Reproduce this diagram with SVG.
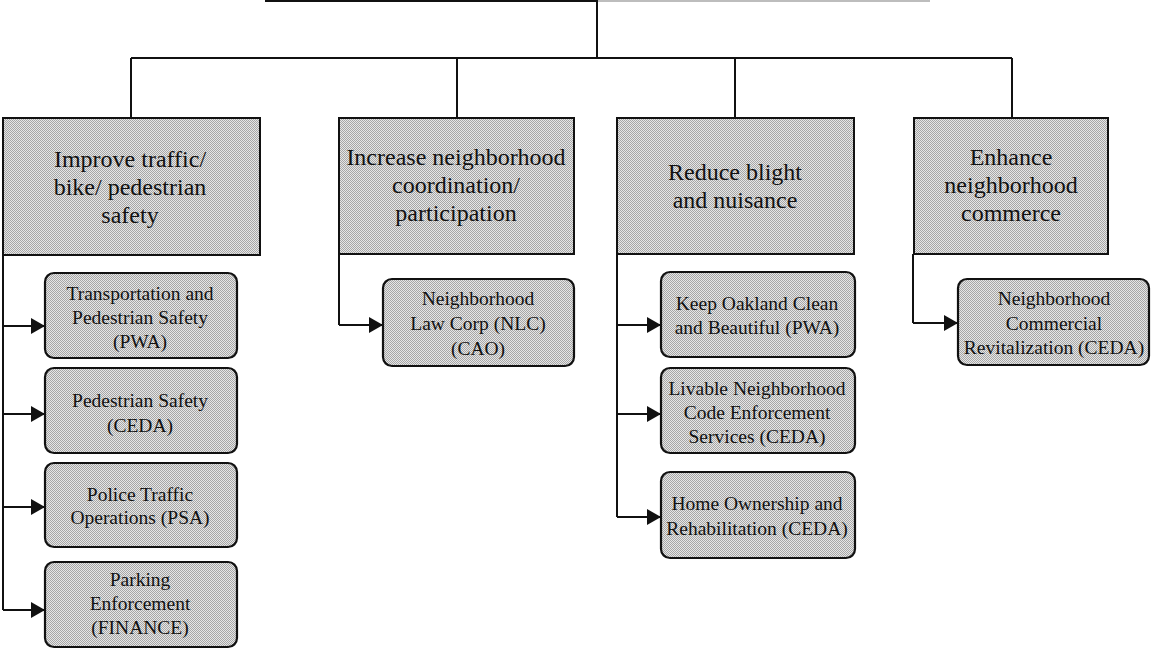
<svg xmlns="http://www.w3.org/2000/svg" width="1151" height="656" viewBox="0 0 1151 656">
  <defs>
    <pattern id="dither" patternUnits="userSpaceOnUse" width="2" height="2">
      <rect x="0" y="0" width="2" height="2" fill="#e6e6e6"/>
      <rect x="0" y="0" width="1" height="1" fill="#a6a6a6"/>
      <rect x="1" y="1" width="1" height="1" fill="#a6a6a6"/>
    </pattern>
    <marker id="arrow" markerUnits="userSpaceOnUse" markerWidth="15" markerHeight="16" refX="14" refY="8" orient="auto">
      <path d="M0,0 L14,8 L0,16 Z" fill="#111"/>
    </marker>
  </defs>
  <style>
    .goal rect { fill: url(#dither); stroke: #111; stroke-width: 2; }
    .prog rect { fill: url(#dither); stroke: #111; stroke-width: 2.2; }
    .goal text { font-family: "Liberation Serif", "Times New Roman", serif; font-size: 24px; fill: #111; text-anchor: middle; }
    .prog text { font-family: "Liberation Serif", "Times New Roman", serif; font-size: 19.5px; fill: #111; text-anchor: middle; }
    .conn path { fill: none; stroke: #111; stroke-width: 2; }
    .conn .arr { marker-end: url(#arrow); }
  </style>

  <rect x="0" y="0" width="1151" height="656" fill="#ffffff"/>

  <g id="connectors" class="conn">
    <path d="M265,1 H597" />
    <path d="M597,1 H930" style="stroke:#bdbdbd"/>
    <path d="M597,0 V58" />
    <path d="M131,58 H1012" />
    <path d="M131,58 V118" />
    <path d="M457,58 V118" />
    <path d="M735,58 V118" />
    <path d="M1012,58 V118" />
    <!-- goal 1 -->
    <path d="M3,255 V610" />
    <path class="arr" d="M3,326 H45" />
    <path class="arr" d="M3,414 H45" />
    <path class="arr" d="M3,507 H45" />
    <path class="arr" d="M3,610 H45" />
    <!-- goal 2 -->
    <path d="M339,254 V325" />
    <path class="arr" d="M339,325 H383" />
    <!-- goal 3 -->
    <path d="M617,254 V517" />
    <path class="arr" d="M617,325 H661" />
    <path class="arr" d="M617,414 H661" />
    <path class="arr" d="M617,517 H661" />
    <!-- goal 4 -->
    <path d="M913,254 V323" />
    <path class="arr" d="M913,323 H958" />
  </g>

  <g id="goal-traffic" class="goal">
    <rect x="3" y="118" width="257" height="137"/>
    <text x="130" y="167">Improve traffic/</text>
    <text x="130" y="195">bike/ pedestrian</text>
    <text x="130" y="223">safety</text>
  </g>
  <g id="goal-coordination" class="goal">
    <rect x="339" y="118" width="235" height="136"/>
    <text x="456" y="165">Increase neighborhood</text>
    <text x="456" y="193">coordination/</text>
    <text x="456" y="221">participation</text>
  </g>
  <g id="goal-blight" class="goal">
    <rect x="617" y="118" width="237" height="136"/>
    <text x="735" y="180">Reduce blight</text>
    <text x="735" y="208">and nuisance</text>
  </g>
  <g id="goal-commerce" class="goal">
    <rect x="914" y="118" width="194" height="136"/>
    <text x="1011" y="165">Enhance</text>
    <text x="1011" y="193">neighborhood</text>
    <text x="1011" y="221">commerce</text>
  </g>

  <g id="prog-transportation" class="prog">
    <rect x="45" y="273" width="192" height="85" rx="9" ry="9"/>
    <text x="140" y="300">Transportation and</text>
    <text x="140" y="324">Pedestrian Safety</text>
    <text x="140" y="348">(PWA)</text>
  </g>
  <g id="prog-pedestrian" class="prog">
    <rect x="45" y="368" width="192" height="85" rx="9" ry="9"/>
    <text x="140" y="407">Pedestrian Safety</text>
    <text x="140" y="432">(CEDA)</text>
  </g>
  <g id="prog-police" class="prog">
    <rect x="45" y="463" width="192" height="84" rx="9" ry="9"/>
    <text x="140" y="501">Police Traffic</text>
    <text x="140" y="524">Operations (PSA)</text>
  </g>
  <g id="prog-parking" class="prog">
    <rect x="45" y="562" width="192" height="85" rx="9" ry="9"/>
    <text x="140" y="586">Parking</text>
    <text x="140" y="610">Enforcement</text>
    <text x="140" y="634">(FINANCE)</text>
  </g>

  <g id="prog-nlc" class="prog">
    <rect x="383" y="279" width="191" height="87" rx="9" ry="9"/>
    <text x="478" y="305">Neighborhood</text>
    <text x="478" y="330">Law Corp (NLC)</text>
    <text x="478" y="355">(CAO)</text>
  </g>

  <g id="prog-keep-oakland" class="prog">
    <rect x="661" y="272" width="194" height="85" rx="9" ry="9"/>
    <text x="757" y="310">Keep Oakland Clean</text>
    <text x="757" y="334">and Beautiful (PWA)</text>
  </g>
  <g id="prog-livable" class="prog">
    <rect x="661" y="368" width="194" height="85" rx="9" ry="9"/>
    <text x="757" y="395">Livable Neighborhood</text>
    <text x="757" y="419">Code Enforcement</text>
    <text x="757" y="443">Services (CEDA)</text>
  </g>
  <g id="prog-home-ownership" class="prog">
    <rect x="661" y="472" width="194" height="86" rx="9" ry="9"/>
    <text x="757" y="510">Home Ownership and</text>
    <text x="757" y="535">Rehabilitation (CEDA)</text>
  </g>

  <g id="prog-commercial" class="prog">
    <rect x="958" y="279" width="191" height="86" rx="9" ry="9"/>
    <text x="1054" y="305">Neighborhood</text>
    <text x="1054" y="330">Commercial</text>
    <text x="1054" y="354">Revitalization (CEDA)</text>
  </g>
</svg>
